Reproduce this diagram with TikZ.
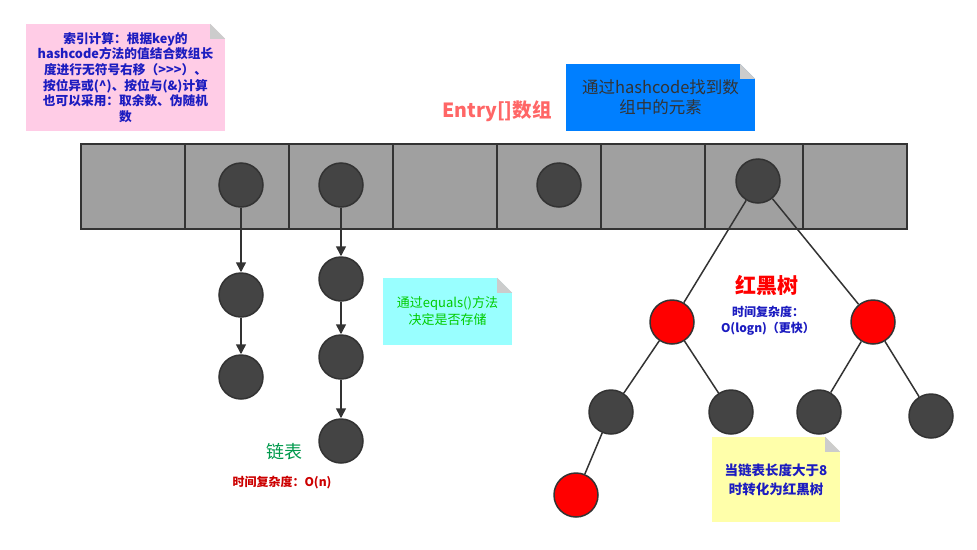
\documentclass[tikz,border=0pt]{standalone}
\usepackage{fontspec}
\setmainfont{Noto Sans CJK SC}
\usetikzlibrary{arrows.meta, positioning}
\definecolor{slotgray}{HTML}{A0A0A0}
\definecolor{ballgray}{HTML}{444444}
\definecolor{edgegray}{HTML}{333333}
\definecolor{foldgray}{HTML}{CCCCCC}
\definecolor{notepink}{HTML}{FFCCE6}
\definecolor{noteblue}{HTML}{007FFF}
\definecolor{notecyan}{HTML}{99FFFF}
\definecolor{noteyellow}{HTML}{FFFFAA}
\definecolor{inkblue}{HTML}{1C1CC0}
\definecolor{inkgreen}{HTML}{00CC00}
\definecolor{listgreen}{HTML}{00994C}
\definecolor{entryred}{HTML}{FF6666}
\definecolor{timered}{HTML}{CC0000}
\newcommand{\dogear}[1]{%
  \fill[white] ([xshift=-15pt]#1.north east) -- (#1.north east) -- ([yshift=-15pt]#1.north east) -- cycle;
  \fill[foldgray] ([xshift=-15pt]#1.north east) -- ([xshift=-15pt,yshift=-15pt]#1.north east) -- ([yshift=-15pt]#1.north east) -- cycle;
}

\begin{document}
\begin{tikzpicture}[x=1pt, y=-1pt,
    slot/.style={draw=edgegray, line width=2pt, fill=slotgray, minimum height=85pt, inner sep=0pt},
    ball/.style={circle, draw=edgegray, line width=1.5pt, fill=ballgray, minimum size=44pt, inner sep=0pt},
    redball/.style={ball, fill=red},
    link/.style={draw=edgegray, line width=1.5pt, -{Triangle[length=10pt, width=10pt]}},
    branch/.style={draw=edgegray, line width=1.5pt},
    note/.style={inner sep=0pt, align=center},
    small/.style={font=\fontsize{12}{15.6}\selectfont\bfseries}]
    \useasboundingbox (0,0) rectangle (977,549);
    % Array slots
    \foreach \x/\w [count=\i] in {133/104, 237/104, 341/104, 445/104, 549/104, 653/104, 754/98, 855/104}
        \node[slot, minimum width=\w pt] (s\i) at (\x,186.5) {};
    % Entries in the array
    \node[ball] (e1) at (241,185) {};
    \node[ball] (e2) at (341,185) {};
    \node[ball] (e3) at (559,185) {};
    \node[ball] (e4) at (758,181) {};
    % Linked lists
    \node[ball] (a1) at (241,295) {};
    \node[ball] (a2) at (241,377) {};
    \node[ball] (b1) at (341,279) {};
    \node[ball] (b2) at (341,357) {};
    \node[ball] (b3) at (341,441) {};
    \draw[link] (e1) -- (a1);
    \draw[link] (a1) -- (a2);
    \draw[link] (e2) -- (b1);
    \draw[link] (b1) -- (b2);
    \draw[link] (b2) -- (b3);
    % Red-black tree
    \node[redball] (r1) at (672,322) {};
    \node[redball] (r2) at (873,322) {};
    \node[ball] (t1) at (611,412) {};
    \node[ball] (t2) at (731,412) {};
    \node[ball] (t3) at (819,412) {};
    \node[ball] (t4) at (931,416) {};
    \node[redball] (r3) at (576,495) {};
    \draw[branch] (e4) -- (r1);
    \draw[branch] (e4) -- (r2);
    \draw[branch] (r1) -- (t1);
    \draw[branch] (r1) -- (t2);
    \draw[branch] (r2) -- (t3);
    \draw[branch] (r2) -- (t4);
    \draw[branch] (t1) -- (r3);
    % Notes
    \node[note, fill=notepink, minimum width=199pt, minimum height=107pt, text=inkblue,
          font=\fontsize{12.7}{15.6}\selectfont\bfseries] (hashnote) at (125.5,77.5)
        {索引计算：根据key的\\hashcode方法的值结合数组长\\度进行无符号右移（>{}>{}>）、\\按位异或(\^{})、按位与(\&)计算\\也可以采用：取余数、伪随机\\数};
    \dogear{hashnote}
    \node[note, fill=noteblue, minimum width=189pt, minimum height=67pt, text=edgegray,
          font=\fontsize{16.5}{20}\selectfont] (findnote) at (660.5,97.5)
        {通过hashcode找到数\\组中的元素};
    \dogear{findnote}
    \node[note, fill=notecyan, minimum width=129pt, minimum height=67pt, text=inkgreen,
          font=\fontsize{13}{17}\selectfont] (eqnote) at (447.5,311.5)
        {通过equals()方法\\决定是否存储};
    \dogear{eqnote}
    \node[note, fill=noteyellow, minimum width=128pt, minimum height=85pt, text=inkblue,
          font=\fontsize{13.5}{19}\selectfont\bfseries] (treenote) at (776,479.5)
        {当链表长度大于8\\时转化为红黑树};
    \dogear{treenote}
    % Labels
    \node[text=entryred, font=\fontsize{19.5}{22}\selectfont\bfseries] (entry) at (497,111) {Entry[]数组};
    \node[text=red, font=\fontsize{21}{24}\selectfont\bfseries] (rbt) at (767,285) {红黑树};
    \node[text=inkblue, small, align=center] (rbtime) at (768,321) {时间复杂度：\\O(logn)（更快）};
    \node[text=listgreen, font=\fontsize{18}{20}\selectfont] (list) at (284,452) {链表};
    \node[text=timered, small] (listtime) at (282,483) {时间复杂度：O(n)};
\end{tikzpicture}
\end{document}
